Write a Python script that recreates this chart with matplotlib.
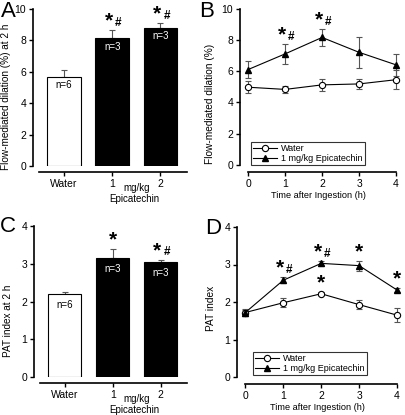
import numpy as np
import matplotlib
matplotlib.use("Agg")
import matplotlib.pyplot as plt

plt.rcParams['font.family'] = ['Liberation Sans', 'DejaVu Sans']
plt.rcParams['font.size'] = 7

# bar data (at 2 h)
groups = ['Water', '1', '2']
n_labels = ['n=6', 'n=3', 'n=3']
fmd_2h = [5.7, 8.15, 8.8]
fmd_2h_err = [0.42, 0.5, 0.32]
fmd_2h_sig = ['', '*#', '*#']
pat_2h = [2.2, 3.15, 3.05]
pat_2h_err = [0.05, 0.25, 0.06]
pat_2h_sig = ['', '*', '*#']

# time course
hours = [0, 1, 2, 3, 4]
fmd_water = [4.97, 4.83, 5.12, 5.18, 5.45]
fmd_water_err = [0.4, 0.2, 0.4, 0.3, 0.6]
fmd_epi = [6.1, 7.1, 8.15, 7.2, 6.4]
fmd_epi_err = [0.55, 0.62, 0.52, 1.0, 0.7]
fmd_epi_sig = ['', '*#', '*#', '', '']
fmd_water_sig = ['', '', '', '', '']
pat_water = [1.72, 1.98, 2.22, 1.93, 1.65]
pat_water_err = [0.1, 0.12, 0.04, 0.12, 0.18]
pat_water_sig = ['', '', '*', '', '']
pat_epi = [1.72, 2.58, 3.03, 2.97, 2.32]
pat_epi_err = [0.08, 0.08, 0.07, 0.13, 0.05]
pat_epi_sig = ['', '*#', '*#', '*', '*']

ERRC = '#555555'


def px(l, b, r, t):
    W, H = 405.0, 415.0
    return [l / W, 1 - b / H, (r - l) / W, (b - t) / H]


def style_axes(ax, ymax, ystep, xlo, xhi, offset):
    ax.spines['top'].set_visible(False)
    ax.spines['right'].set_visible(False)
    ax.spines['left'].set_bounds(0, ymax)
    ax.spines['bottom'].set_bounds(xlo, xhi)
    ax.spines['bottom'].set_position(('outward', offset))
    ax.spines['left'].set_linewidth(1.2)
    ax.spines['bottom'].set_linewidth(1.2)
    ax.set_ylim(0, ymax)
    ax.set_yticks(np.arange(0, ymax + 0.01, ystep))
    ax.tick_params(direction='out', length=3, width=1, pad=2, labelsize=7.5)


def sig_text(ax, x, y, s):
    if s.startswith('*'):
        ax.annotate('*', (x, y), xytext=(-2.5 if '#' in s else 0, 2.5), textcoords='offset points',
                    ha='center', va='baseline', fontsize=15, fontweight='bold')
    if '#' in s:
        ax.annotate('#', (x, y), xytext=(4.5, 3), textcoords='offset points',
                    ha='center', va='baseline', fontsize=8.5, fontweight='bold')


def bar_panel(ax, vals, errs, sigs, ymax, ystep, nlab_drop, ylabel, hpx, lab_xy):
    x = np.arange(len(groups))
    ax.bar(x, vals, width=0.7, color=['white', 'black', 'black'], edgecolor='black', linewidth=0.8, zorder=2)
    ax.errorbar(x, vals, yerr=[np.zeros(len(errs)), errs], fmt='none', ecolor=ERRC,
                elinewidth=0.8, capsize=2.5, capthick=0.8, zorder=1)
    for i in range(len(groups)):
        ax.text(x[i], vals[i] - nlab_drop, n_labels[i], ha='center', va='center', fontsize=7,
                color='black' if i == 0 else 'white', zorder=3)
        sig_text(ax, x[i], vals[i] + errs[i], sigs[i])
    style_axes(ax, ymax, ystep, -0.52, 2.55, 4)
    ax.set_xlim(-0.64, 2.55)
    ax.set_xticks(x)
    ax.set_xticklabels(groups)
    ax.text(1.5, -22 / hpx, 'mg/kg', transform=ax.get_xaxis_transform(), ha='center', va='center', fontsize=7)
    ax.text(1.45, -32.5 / hpx, 'Epicatechin', transform=ax.get_xaxis_transform(), ha='center', va='center', fontsize=7)
    ax.set_ylabel(ylabel, fontsize=7.2)
    ax.yaxis.set_label_coords(*lab_xy)


def line_panel(ax, wv, we, ws, ev, ee, es, ymax, ystep, ylabel, legpos, lab_xy):
    ax.errorbar(hours, wv, yerr=we, fmt='none', ecolor=ERRC, elinewidth=0.8, capsize=2.5,
                capthick=0.8, zorder=1, clip_on=False)
    ax.errorbar(hours, ev, yerr=ee, fmt='none', ecolor=ERRC, elinewidth=0.8, capsize=2.5,
                capthick=0.8, zorder=1, clip_on=False)
    ax.plot(hours, wv, '-o', color='black', lw=0.8, ms=4.5, mfc='white', mec='black', mew=0.8,
            label='Water', zorder=3, clip_on=False)
    ax.plot(hours, ev, '-^', color='black', lw=0.8, ms=5, mfc='black', mec='black',
            label='1 mg/kg Epicatechin', zorder=3, clip_on=False)
    for i in range(len(hours)):
        sig_text(ax, hours[i], wv[i] + we[i], ws[i])
        sig_text(ax, hours[i], ev[i] + ee[i], es[i])
    style_axes(ax, ymax, ystep, 0, 4, 5)
    ax.set_xlim(-0.22, 4)
    ax.set_xticks(hours)
    ax.set_xlabel('Time after Ingestion (h)', fontsize=6.6, labelpad=1.5)
    ax.set_ylabel(ylabel, fontsize=7.3)
    ax.yaxis.set_label_coords(*lab_xy)
    leg = ax.legend(loc='lower left', bbox_to_anchor=legpos, frameon=True, fancybox=False,
                    edgecolor='black', fontsize=6.5, handlelength=2.6, handletextpad=0.5,
                    borderpad=0.25, labelspacing=0.1, borderaxespad=0)
    leg.get_frame().set_linewidth(0.8)


fig = plt.figure(figsize=(4.05, 4.15), dpi=100)
axA = fig.add_axes(px(33, 166, 187, 9))
axB = fig.add_axes(px(240, 165, 396, 8.5))
axC = fig.add_axes(px(34, 377, 187, 226))
axD = fig.add_axes(px(237, 377, 397, 227))

bar_panel(axA, fmd_2h, fmd_2h_err, fmd_2h_sig, 10, 2, 0.55, 'Flow-mediated dilation (%) at 2 h', 157,
          (-0.14, 0.44))
bar_panel(axC, pat_2h, pat_2h_err, pat_2h_sig, 4, 1, 0.3, 'PAT index at 2 h', 151, (-0.14, 0.37))
line_panel(axB, fmd_water, fmd_water_err, fmd_water_sig, fmd_epi, fmd_epi_err, fmd_epi_sig,
           10, 2, 'Flow-mediated dilation (%)', (0.07, 0.0), (-0.16, 0.39))
line_panel(axD, pat_water, pat_water_err, pat_water_sig, pat_epi, pat_epi_err, pat_epi_sig,
           4, 1, 'PAT index', (0.1, 0.013), (-0.13, 0.46))

for lab, x, y in [('A', 1, 1), ('B', 199, 1), ('C', 0, 216), ('D', 205, 218)]:
    fig.text(x / 405, 1 - y / 415, lab, ha='left', va='top', fontsize=16)

fig.savefig('out.png', dpi=100)
